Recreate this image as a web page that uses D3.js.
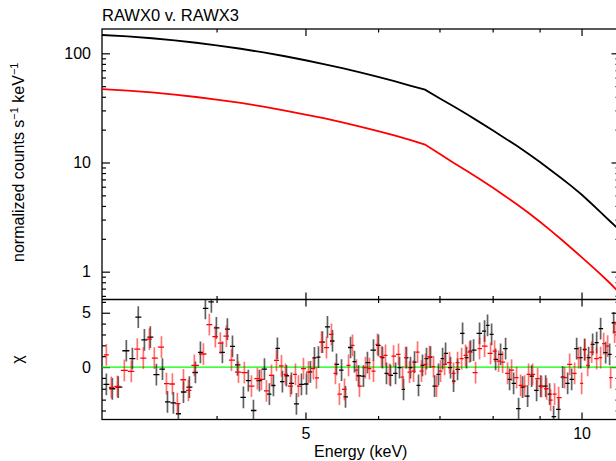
<!DOCTYPE html>
<html>
<head>
<meta charset="utf-8">
<script src="https://cdn.jsdelivr.net/npm/d3@7"></script>
<style>
  body { margin: 0; background: #fff; }
  svg { display: block; }
  text { font-family: "Liberation Sans", Arial, sans-serif; }
</style>
</head>
<body>
<div id="chart"></div>
<script>
// ---- data ----
const title = "RAWX0 v. RAWX3";

// folded spectrum (top panel), normalized counts s^-1 keV^-1
const specEnergy = [3.0, 3.2, 3.4, 3.6, 3.8, 4.0, 4.25, 4.5, 4.75, 5.0, 5.25, 5.5, 5.75, 6.0, 6.25, 6.5, 6.75,
                    7.0, 7.25, 7.5, 7.75, 8.0, 8.25, 8.5, 8.75, 9.0, 9.25, 9.5, 9.75, 10.0, 10.25, 10.5, 10.75, 11.0];
const specRAWX0 = [147.2, 142.8, 137.4, 131.4, 125.0, 118.4, 110.1, 101.9, 94.0, 86.4, 79.3, 72.7, 66.5, 60.8, 55.5, 50.7, 46.5,
                   38.8, 32.8, 27.6, 23.3, 19.7, 16.7, 14.2, 12.0, 10.14, 8.54, 7.20, 6.07, 5.09, 4.21, 3.47, 2.88, 2.40];
const specRAWX3 = [46.9, 45.5, 43.8, 41.8, 39.8, 37.7, 35.1, 32.5, 29.9, 27.5, 25.3, 23.2, 21.2, 19.4, 17.7, 16.1, 14.6,
                   12.0, 9.93, 8.37, 7.02, 5.90, 4.94, 4.14, 3.46, 2.88, 2.39, 1.98, 1.64, 1.36, 1.13, 0.938, 0.779, 0.642];

// residuals (bottom panel), chi
const resEnergyRAWX0 = [3.033, 3.079, 3.125, 3.189, 3.238, 3.286, 3.337, 3.387, 3.439, 3.492, 3.536, 3.589, 3.634, 3.681, 3.736,
  3.793, 3.841, 3.889, 3.948, 3.998, 4.059, 4.110, 4.163, 4.215, 4.279, 4.332, 4.388, 4.454, 4.511, 4.567, 4.614, 4.660,
  4.719, 4.767, 4.827, 4.888, 4.950, 5.013, 5.063, 5.114, 5.166, 5.218, 5.284, 5.351, 5.405, 5.474, 5.529, 5.599, 5.655,
  5.712, 5.784, 5.842, 5.931, 6.006, 6.067, 6.128, 6.190, 6.269, 6.332, 6.396, 6.444, 6.509, 6.575, 6.641, 6.708, 6.776,
  6.844, 6.914, 6.983, 7.055, 7.108, 7.197, 7.252, 7.325, 7.418, 7.493, 7.568, 7.626, 7.741, 7.839, 7.898, 7.979, 8.059,
  8.161, 8.264, 8.347, 8.432, 8.538, 8.625, 8.734, 8.822, 8.933, 9.024, 9.138, 9.230, 9.323, 9.441, 9.537, 9.657, 9.755,
  9.878, 9.978, 10.079, 10.180, 10.283, 10.387, 10.491, 10.624, 10.731, 10.840];
const resChiRAWX0 = [-1.6, -2.0, -1.85, 1.5, 0.77, 4.6, 2.5, 2.76, -0.7, -0.2, -3.2, -3.3, -4.3, -2.3, -1.84,
  -0.5, 1.35, 5.4, 6.0, 3.6, 1.35, 3.5, 1.9, 0.2, -2.8, -1.25, -4.0, -1.25, -0.2, -2.5, -1.7, 1.72,
  -1.35, -0.8, -1.5, -3.4, -1.6, -1.56, -0.45, 0.85, 0.92, 2.3, 3.7, 2.4, 0.25, -0.28, -2.75, 1.8, 0.5,
  -0.8, -0.83, 0.4, 1.56, 2.0, 0.86, -0.58, -0.77, -0.58, -0.06, -2.05, 0.86, -0.06, 0.46, -1.69, 0.15, 0.77,
  0.92, -1.75, -0.67, 0.77, 1.26, -0.06, -1.29, -0.21, 3.1, 0.86, 1.47, 1.56, 3.1, 3.3, 3.83, 3.0, 0.7,
  1.17, 1.69, -1.13, -1.5, -3.83, -1.84, -2.67, -0.83, -2.15, -1.75, -1.75, -2.5, -4.57, -3.9, -0.92, -1.5, -1.13,
  1.69, 0.86, 1.63, 0.86, 2.09, 2.24, 3.53, 1.32, 1.17, 4.08];

const resEnergyRAWX3 = [3.033, 3.071, 3.118, 3.173, 3.229, 3.278, 3.328, 3.379, 3.421, 3.483, 3.527, 3.580, 3.625, 3.681, 3.727,
  3.783, 3.870, 3.928, 3.988, 4.038, 4.100, 4.152, 4.226, 4.289, 4.366, 4.432, 4.477, 4.533, 4.591, 4.649, 4.708, 4.755,
  4.815, 4.876, 4.913, 4.975, 5.038, 5.101, 5.140, 5.206, 5.271, 5.337, 5.391, 5.445, 5.515, 5.571, 5.627, 5.683, 5.726,
  5.813, 5.871, 5.931, 5.991, 6.052, 6.113, 6.174, 6.238, 6.316, 6.380, 6.428, 6.493, 6.559, 6.625, 6.691, 6.759, 6.827,
  6.896, 6.948, 7.019, 7.090, 7.180, 7.252, 7.325, 7.400, 7.474, 7.549, 7.664, 7.741, 7.839, 7.958, 8.039, 8.120, 8.202,
  8.305, 8.389, 8.495, 8.582, 8.668, 8.755, 8.844, 8.956, 9.046, 9.161, 9.253, 9.346, 9.441, 9.585, 9.706, 9.828, 9.927,
  10.003, 10.079, 10.155, 10.258, 10.387, 10.491, 10.571, 10.677, 10.758, 10.867];
const resChiRAWX3 = [1.13, -1.87, -1.78, -0.3, -0.4, 1.65, 0.83, 2.58, 0.83, 1.84, -1.53, -1.56, -3.37, -1.17, -2.15,
  0.15, 1.2, 3.9, 2.8, 2.2, 2.85, 0.64, -0.46, -0.52, -1.75, -1.07, -1.13, -2.2, -0.77, 0.61, 0.1, -0.67,
  -1.75, -0.67, -1.75, -0.15, -0.46, -0.15, -1.0, 2.3, 1.78, 3.0, -0.58, -2.5, -2.05, 0.15, 2.0, -0.28, -1.75,
  -0.06, -0.15, -0.37, 2.09, 0.95, 1.07, -0.67, 1.0, 1.17, -0.92, 0.86, -0.46, -0.37, 1.38, -0.37, 0.25, 0.95,
  0.03, -1.75, -0.37, 0.25, 0.4, -0.58, 0.4, 0.77, 1.07, 1.38, -0.52, 1.69, 1.93, 1.26, 1.47, 0.55, 0.46,
  -0.58, -0.28, -0.98, -1.69, -1.75, -0.67, -0.67, -1.07, -1.81, -2.0, -3.04, -2.5, -2.82, -0.98, 0.25, -0.58, 0.86,
  -1.5, 1.56, 0.15, 1.38, 0.77, 0.86, 2.15, 1.93, -0.98, 3.22];

// tick values
const xTicksMajor = [5, 10];
const xTicksMinor = [4, 6, 7, 8, 9];
const yTopMajor = [1, 10, 100];
const yTopMinor = [0.6, 0.7, 0.8, 0.9, 2, 3, 4, 5, 6, 7, 8, 9, 20, 30, 40, 50, 60, 70, 80, 90];
const yResMajor = [0, 5];
const yResMinor = [-4, -3, -2, -1, 1, 2, 3, 4, 6];

// ---- layout ----
const width = 616, height = 461;
const plotL = 102, plotR = 619.5, plotT = 29, plotM = 299.5, plotB = 419.5;
const font = '"Liberation Sans", Arial, sans-serif';

const svg = d3.select("#chart").append("svg")
  .attr("width", width)
  .attr("height", height);

const x = d3.scaleLog().domain([3, 11]).range([plotL, plotR]);
const yTop = d3.scaleLog().domain([0.556, 167]).range([plotM, plotT]);
const yRes = d3.scaleLinear().domain([-4.83, 6.22]).range([plotB, plotM]);

svg.append("clipPath").attr("id", "clipTop")
  .append("rect").attr("x", plotL).attr("y", plotT).attr("width", plotR - plotL).attr("height", plotM - plotT);
svg.append("clipPath").attr("id", "clipRes")
  .append("rect").attr("x", plotL).attr("y", plotM).attr("width", plotR - plotL).attr("height", plotB - plotM);

function axis(fn, scale, vals, size, labels, tr, pad) {
  var a = fn(scale).tickValues(vals).tickSize(size).tickPadding(pad || 0);
  a.tickFormat(labels ? d3.format("d") : "");
  var g = svg.append("g").attr("transform", tr).call(a);
  g.select(".domain").remove();
  g.selectAll("line").attr("stroke", "#000").attr("stroke-width", 1.2);
  g.selectAll("text").attr("font-size", 16).attr("font-family", font).attr("fill", "#000");
  return g;
}

// top panel axes
axis(d3.axisLeft, yTop, yTopMajor, -8, true, `translate(${plotL},0)`, 11);
axis(d3.axisLeft, yTop, yTopMinor, -4, false, `translate(${plotL},0)`);
axis(d3.axisRight, yTop, yTopMajor, -8, false, `translate(${plotR},0)`);
axis(d3.axisRight, yTop, yTopMinor, -4, false, `translate(${plotR},0)`);
axis(d3.axisTop, x, xTicksMajor, -7, false, `translate(0,${plotT})`);
axis(d3.axisTop, x, xTicksMinor, -3.5, false, `translate(0,${plotT})`);
axis(d3.axisBottom, x, xTicksMajor, -7, false, `translate(0,${plotM})`);
axis(d3.axisBottom, x, xTicksMinor, -3.5, false, `translate(0,${plotM})`);

// residual panel axes
axis(d3.axisLeft, yRes, yResMajor, -8, true, `translate(${plotL},0)`, 11);
axis(d3.axisLeft, yRes, yResMinor, -4, false, `translate(${plotL},0)`);
axis(d3.axisRight, yRes, yResMajor, -8, false, `translate(${plotR},0)`);
axis(d3.axisRight, yRes, yResMinor, -4, false, `translate(${plotR},0)`);
axis(d3.axisTop, x, xTicksMajor, -7, false, `translate(0,${plotM})`);
axis(d3.axisTop, x, xTicksMinor, -3.5, false, `translate(0,${plotM})`);
axis(d3.axisBottom, x, xTicksMajor, -7, true, `translate(0,${plotB})`, 8);
axis(d3.axisBottom, x, xTicksMinor, -3.5, false, `translate(0,${plotB})`);

// frames
svg.append("rect").attr("x", plotL).attr("y", plotT).attr("width", plotR - plotL).attr("height", plotB - plotT)
  .attr("fill", "none").attr("stroke", "#000").attr("stroke-width", 1.3);
svg.append("line").attr("x1", plotL).attr("x2", plotR).attr("y1", plotM).attr("y2", plotM)
  .attr("stroke", "#000").attr("stroke-width", 1.3);

// spectra
const line = d3.line().x(d => x(d.e)).y(d => yTop(d.v));
const specs = [
  {vals: specRAWX0, color: "#000"},
  {vals: specRAWX3, color: "#ff0000"}
];
specs.forEach(s => {
  svg.append("path")
    .datum(specEnergy.map((e, i) => ({e: e, v: s.vals[i]})))
    .attr("clip-path", "url(#clipTop)")
    .attr("d", line)
    .attr("fill", "none")
    .attr("stroke", s.color)
    .attr("stroke-width", 1.8);
});

// zero line
svg.append("line")
  .attr("x1", plotL).attr("x2", plotR)
  .attr("y1", yRes(0)).attr("y2", yRes(0))
  .attr("stroke", "#00ff00").attr("stroke-width", 1.2);

// residual crosses
function binned(en, chi) {
  const n = en.length;
  return en.map((e, i) => ({
    e: e,
    chi: chi[i],
    lo: i > 0 ? Math.sqrt(en[i - 1] * e) : e * Math.sqrt(e / en[i + 1]),
    hi: i < n - 1 ? Math.sqrt(e * en[i + 1]) : e * Math.sqrt(e / en[i - 1])
  }));
}
const resSeries = [
  {pts: binned(resEnergyRAWX0, resChiRAWX0), color: "#000", op: 0.62},
  {pts: binned(resEnergyRAWX3, resChiRAWX3), color: "#ff0000", op: 0.55}
];
resSeries.forEach(s => {
  const g = svg.append("g").attr("clip-path", "url(#clipRes)");
  g.selectAll(".v").data(s.pts).enter().append("line")
    .attr("x1", d => x(d.e)).attr("x2", d => x(d.e))
    .attr("y1", d => yRes(d.chi - 1)).attr("y2", d => yRes(d.chi + 1))
    .attr("stroke", s.color).attr("stroke-opacity", s.op).attr("stroke-width", 1.7);
  g.selectAll(".h").data(s.pts).enter().append("line")
    .attr("x1", d => x(d.lo)).attr("x2", d => x(d.hi))
    .attr("y1", d => yRes(d.chi)).attr("y2", d => yRes(d.chi))
    .attr("stroke", s.color).attr("stroke-width", 1.3);
});

// texts
svg.append("text").attr("x", plotL).attr("y", 21)
  .attr("font-size", 16.5).attr("fill", "#000").text(title);

svg.append("text")
  .attr("transform", `translate(${(plotL + plotR) / 2},457)`)
  .attr("text-anchor", "middle").attr("font-size", 16).attr("fill", "#000")
  .text("Energy (keV)");

const yl = svg.append("text")
  .attr("transform", `translate(23.5,${(plotT + plotM) / 2 - 2}) rotate(-90)`)
  .attr("text-anchor", "middle").attr("font-size", 16).attr("fill", "#000");
yl.append("tspan").text("normalized counts s");
yl.append("tspan").attr("font-size", 11).attr("dy", -6).text("\u22121");
yl.append("tspan").attr("dy", 6).text(" keV");
yl.append("tspan").attr("font-size", 11).attr("dy", -6).text("\u22121");

svg.append("text")
  .attr("transform", `translate(23,${(plotM + plotB) / 2}) rotate(-90)`)
  .attr("text-anchor", "middle").attr("font-size", 16).attr("fill", "#000")
  .text("\u03c7");
</script>
</body>
</html>
